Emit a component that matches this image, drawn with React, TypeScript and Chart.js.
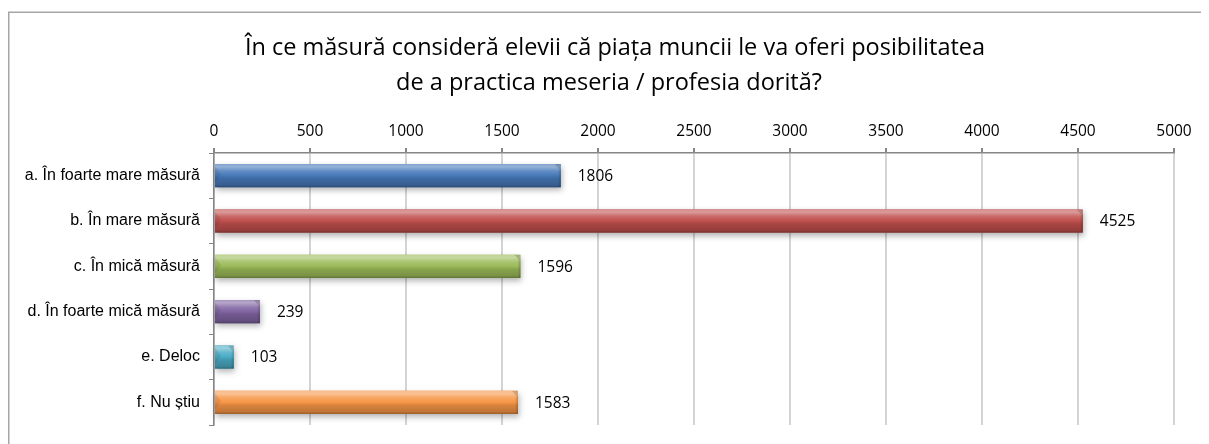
import React, { useEffect, useRef } from 'react';
import { Chart, registerables } from 'chart.js';

Chart.register(...registerables);

const titleLines = [
  'În ce măsură consideră elevii că piața muncii le va oferi posibilitatea',
  'de a practica meseria / profesia dorită?',
];
const categories = [
  'a. În foarte mare măsură',
  'b. În mare măsură',
  'c. În mică măsură',
  'd. În foarte mică măsură',
  'e. Deloc',
  'f. Nu știu',
];
const values = [1806, 4525, 1596, 239, 103, 1583];
const barColors = ['#4679b9', '#c0504d', '#9bbb59', '#8064a2', '#4bacc6', '#f79646'];
const xMin = 0;
const xMax = 5000;
const xStep = 500;

function hexToRgb(hex: string): number[] {
  const h = hex.replace('#', '');
  return [0, 2, 4].map((i) => parseInt(h.slice(i, i + 2), 16));
}
function mix(hex: string, target: number, t: number): string {
  const [r, g, b] = hexToRgb(hex);
  const m = (v: number) => Math.round(v + (target - v) * t);
  return `rgb(${m(r)},${m(g)},${m(b)})`;
}

const framePlugin = {
  id: 'frame',
  beforeDraw(chart: any) {
    const ctx = chart.ctx;
    ctx.save();
    ctx.strokeStyle = '#a6a6a6';
    ctx.lineWidth = 1.5;
    ctx.beginPath();
    ctx.moveTo(0.75, chart.height);
    ctx.lineTo(0.75, 4.25);
    ctx.lineTo(chart.width, 4.25);
    ctx.stroke();
    // title
    ctx.fillStyle = '#000';
    ctx.font = '23.5px "Open Sans", sans-serif';
    ctx.textAlign = 'center';
    ctx.textBaseline = 'middle';
    titleLines.forEach((line, i) => {
      ctx.fillText(line, i === 0 ? 607 : 601, 40 + i * 35);
    });
    ctx.restore();
  },
};

const bevelPlugin = {
  id: 'bevel',
  afterDatasetsDraw(chart: any) {
    const ctx = chart.ctx;
    const meta = chart.getDatasetMeta(0);
    meta.data.forEach((el: any, i: number) => {
      const { x, y, base, height } = el.getProps(['x', 'y', 'base', 'height'], true);
      const c = barColors[i];
      const x0 = Math.min(base, x);
      const x1 = Math.max(base, x);
      const yT = y - height / 2;
      const yB = y + height / 2;
      const w = x1 - x0;
      ctx.save();
      ctx.shadowColor = 'rgba(0,0,0,0.3)';
      ctx.shadowBlur = 6;
      ctx.shadowOffsetX = 1;
      ctx.shadowOffsetY = 3;
      const g = ctx.createLinearGradient(0, yT, 0, yB);
      g.addColorStop(0, mix(c, 255, 0.35));
      g.addColorStop(0.12, mix(c, 255, 0.42));
      g.addColorStop(0.3, mix(c, 255, 0.15));
      g.addColorStop(0.5, c);
      g.addColorStop(0.62, mix(c, 0, 0.12));
      g.addColorStop(0.9, mix(c, 0, 0.22));
      g.addColorStop(1, mix(c, 0, 0.38));
      ctx.fillStyle = g;
      ctx.fillRect(x0, yT, w, height);
      ctx.restore();
      ctx.save();
      ctx.beginPath();
      ctx.rect(x0, yT, w, height);
      ctx.clip();
      const b = Math.min(6, w / 2);
      ctx.fillStyle = 'rgba(0,0,0,0.08)';
      ctx.beginPath();
      ctx.moveTo(x0, yT + 2);
      ctx.lineTo(x0 + b, yT + height * 0.45);
      ctx.lineTo(x0, yT + height * 0.8);
      ctx.closePath();
      ctx.fill();
      ctx.fillStyle = 'rgba(0,0,0,0.16)';
      ctx.beginPath();
      ctx.moveTo(x1 - b, yT);
      ctx.lineTo(x1, yT);
      ctx.lineTo(x1, yT + b + 1);
      ctx.closePath();
      ctx.fill();
      const ge = ctx.createLinearGradient(x1 - 3, 0, x1, 0);
      ge.addColorStop(0, 'rgba(0,0,0,0)');
      ge.addColorStop(1, 'rgba(0,0,0,0.2)');
      ctx.fillStyle = ge;
      ctx.fillRect(x1 - 3, yT + b, 3, height - b);
      ctx.restore();
    });
  },
};

const labelPlugin = {
  id: 'valueLabels',
  afterDatasetsDraw(chart: any) {
    const ctx = chart.ctx;
    const meta = chart.getDatasetMeta(0);
    ctx.save();
    ctx.font = '15.5px "Open Sans", sans-serif';
    ctx.fillStyle = '#000';
    ctx.textAlign = 'left';
    ctx.textBaseline = 'middle';
    meta.data.forEach((el: any, i: number) => {
      const { x, y } = el.getProps(['x', 'y'], true);
      ctx.fillText(String(values[i]), x + 17, y + 1);
    });
    ctx.restore();
  },
};

export default function App() {
  const ref = useRef<HTMLCanvasElement>(null);
  useEffect(() => {
    if (!ref.current) return;
    const chart = new Chart(ref.current, {
      type: 'bar',
      data: {
        labels: categories,
        datasets: [
          {
            data: values,
            backgroundColor: barColors,
            borderWidth: 0,
            barPercentage: 0.51,
            categoryPercentage: 1,
          },
        ],
      },
      options: {
        indexAxis: 'y',
        responsive: false,
        animation: false,
        events: [],
        layout: { padding: { left: 0, right: 35, top: 100, bottom: 19 } },
        plugins: {
          legend: { display: false },
          tooltip: { enabled: false },
          title: { display: false },
        },
        scales: {
          x: {
            position: 'top',
            min: xMin,
            max: xMax,
            afterFit: (s: any) => {
              s.height = 45;
            },
            ticks: {
              stepSize: xStep,
              color: '#000',
              padding: 7,
              font: { family: '"Open Sans", sans-serif', size: 15.5 },
              callback: (v: any) => String(v),
            },
            grid: {
              color: '#d4d4d4',
              lineWidth: 2,
              tickColor: '#868686',
              tickLength: 5,
            },
            border: { color: '#868686', width: 1.5 },
          },
          y: {
            afterFit: (s: any) => {
              s.width = 206;
            },
            ticks: {
              color: '#000',
              padding: 9,
              font: { family: '"Liberation Sans", Arial, sans-serif', size: 16 },
            },
            grid: {
              drawOnChartArea: false,
              drawTicks: true,
              offset: true,
              tickColor: '#868686',
              tickLength: 5,
            },
            border: { color: '#868686', width: 1.5 },
          },
        },
      },
      plugins: [framePlugin, bevelPlugin, labelPlugin],
    });
    return () => chart.destroy();
  }, []);
  return (
    <div style={{ width: 1201, height: 436 }}>
      <canvas ref={ref} width={1201} height={436} style={{ display: 'block' }} />
    </div>
  );
}
